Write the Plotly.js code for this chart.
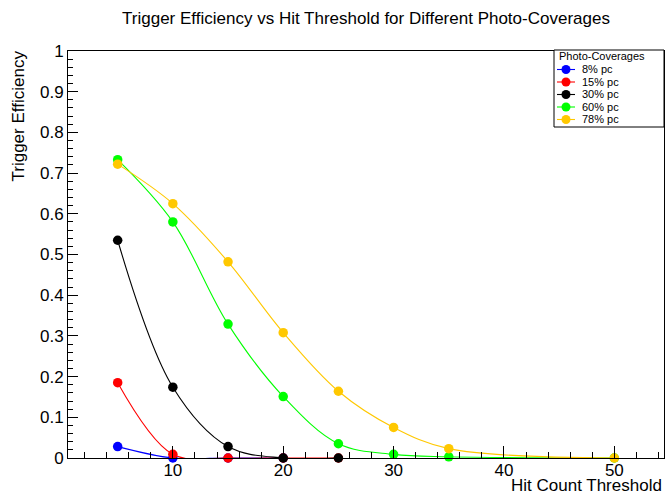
<!DOCTYPE html>
<html>
<head>
<meta charset="utf-8">
<script src="https://cdn.plot.ly/plotly-3.0.1.min.js"></script>
<style>
  html, body { margin: 0; padding: 0; background: #ffffff; }
  #chart { width: 667px; height: 495px; }
</style>
</head>
<body>
<div id="chart"></div>
<script>
// Trigger efficiency per hit-count threshold, one series per photo-coverage
const seriesNames = ['8% pc', '15% pc', '30% pc', '60% pc', '78% pc'];
const seriesColors = ['#0000ff', '#ff0000', '#000000', '#00ff00', '#ffc800'];

const hits8 = [5, 10, 15, 20];
const eff8 = [0.028, 0.0, 0.0, 0.0];

const hits15 = [5, 10, 15, 20, 25];
const eff15 = [0.185, 0.009, 0.0, 0.0, 0.0];

const hits30 = [5, 10, 15, 20, 25];
const eff30 = [0.535, 0.174, 0.028, 0.0, 0.0];

const hits60 = [5, 10, 15, 20, 25, 30, 35, 50];
const eff60 = [0.733, 0.580, 0.329, 0.151, 0.035, 0.009, 0.003, 0.0];

const hits78 = [5, 10, 15, 20, 25, 30, 35, 50];
const eff78 = [0.722, 0.625, 0.482, 0.308, 0.164, 0.075, 0.023, 0.0];

const xSeries = [hits8, hits15, hits30, hits60, hits78];
const ySeries = [eff8, eff15, eff30, eff60, eff78];

const FONT = 'Liberation Sans, Arial, Helvetica, sans-serif';

// frame geometry in pixels (used to place the hand-made legend)
const W = 667, H = 495;
const M = { l: 68, r: 3, t: 51, b: 37 };
const plotW = W - M.l - M.r;
const plotH = H - M.t - M.b;
const px2x = px => (px - M.l) / plotW;
const py2y = py => (H - M.b - py) / plotH;

const traces = seriesNames.map((name, i) => ({
  type: 'scatter',
  mode: 'lines+markers',
  name: name,
  x: xSeries[i],
  y: ySeries[i],
  line: { color: seriesColors[i], width: 1.1, shape: 'spline', smoothing: 1 },
  marker: { color: seriesColors[i], size: 9.5 },
  cliponaxis: false,
  showlegend: false
}));

// legend box in the top-right corner of the frame
const legLeft = 554, legRight = 664, legTop = 50, legBottom = 127;
const rowY = [69.5, 82, 94.5, 107, 119.5];
const shapes = [{
  type: 'rect', xref: 'paper', yref: 'paper',
  x0: px2x(legLeft), x1: px2x(legRight), y0: py2y(legBottom), y1: py2y(legTop),
  fillcolor: '#ffffff', line: { color: '#000000', width: 1 }, layer: 'above'
}];
const annotations = [{
  text: 'Photo-Coverages', xref: 'paper', yref: 'paper',
  x: px2x(557), y: py2y(56.5), xanchor: 'left', yanchor: 'middle',
  showarrow: false, font: { family: FONT, size: 11, color: '#000000' }
}];
seriesNames.forEach((name, i) => {
  shapes.push({
    type: 'line', xref: 'paper', yref: 'paper',
    x0: px2x(557), x1: px2x(575), y0: py2y(rowY[i]), y1: py2y(rowY[i]),
    line: { color: seriesColors[i], width: 1.1 }, layer: 'above'
  });
  shapes.push({
    type: 'circle', xref: 'paper', yref: 'paper',
    xsizemode: 'pixel', ysizemode: 'pixel',
    xanchor: px2x(566), yanchor: py2y(rowY[i]),
    x0: -4.5, x1: 4.5, y0: -4.5, y1: 4.5,
    fillcolor: seriesColors[i], line: { width: 0 }, layer: 'above'
  });
  annotations.push({
    text: name, xref: 'paper', yref: 'paper',
    x: px2x(580), y: py2y(rowY[i]), xanchor: 'left', yanchor: 'middle',
    showarrow: false, font: { family: FONT, size: 11, color: '#000000' }
  });
});

// axis titles: y title sits at the top end, x title at the right end
annotations.push({
  text: 'Trigger Efficiency', xref: 'paper', yref: 'paper',
  x: px2x(18), y: py2y(49), xanchor: 'center', yanchor: 'top',
  textangle: -90, showarrow: false,
  font: { family: FONT, size: 17, color: '#000000' }
});
annotations.push({
  text: 'Hit Count Threshold', xref: 'paper', yref: 'paper',
  x: 1.0, y: py2y(486), xanchor: 'right', yanchor: 'middle',
  showarrow: false, font: { family: FONT, size: 17, color: '#000000' }
});

const axisCommon = {
  showline: true, linecolor: '#000000', linewidth: 1, mirror: true,
  showgrid: false, zeroline: false,
  ticks: 'inside', tickcolor: '#000000', tickwidth: 1,
  tickfont: { family: FONT, size: 17, color: '#000000' }
};

const layout = {
  width: W, height: H,
  margin: M,
  paper_bgcolor: '#ffffff', plot_bgcolor: '#ffffff',
  font: { family: FONT, color: '#000000' },
  title: {
    text: 'Trigger Efficiency vs Hit Threshold for Different Photo-Coverages',
    font: { family: FONT, size: 17, color: '#000000' },
    xref: 'paper', x: 0.5, xanchor: 'center',
    yref: 'container', y: 1 - 18 / H, yanchor: 'middle'
  },
  xaxis: Object.assign({}, axisCommon, {
    range: [0.5, 54.5], tick0: 0, dtick: 10, ticklen: 12,
    ticklabelstandoff: -3,
    minor: { tick0: 0, dtick: 2, ticks: 'inside', ticklen: 6, tickcolor: '#000000', tickwidth: 1, showgrid: false }
  }),
  yaxis: Object.assign({}, axisCommon, {
    range: [0, 1], tick0: 0, dtick: 0.1, ticklen: 10,
    minor: { tick0: 0, dtick: 0.02, ticks: 'inside', ticklen: 5, tickcolor: '#000000', tickwidth: 1, showgrid: false }
  }),
  shapes: shapes,
  annotations: annotations,
  showlegend: false
};

Plotly.newPlot('chart', traces, layout, { displayModeBar: false, staticPlot: true });
</script>
</body>
</html>
